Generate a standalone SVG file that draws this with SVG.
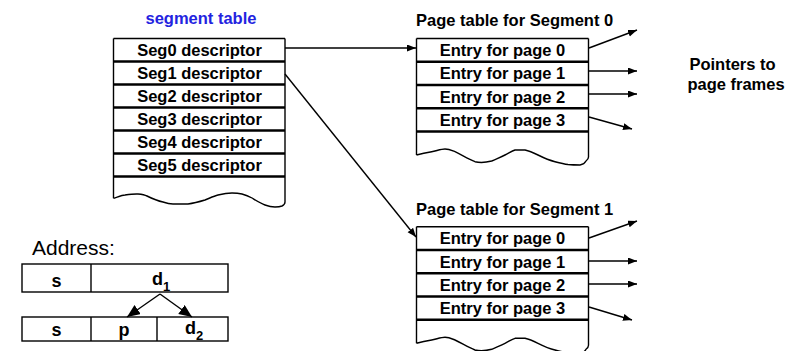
<svg xmlns="http://www.w3.org/2000/svg" width="803" height="351" viewBox="0 0 803 351">
  <style>
    .bg { fill: #ffffff; }
    .cell { fill: none; stroke: #000; stroke-width: 1.4; }
    .div { stroke: #000; stroke-width: 2.4; }
    .edge { fill: none; stroke: #000; stroke-width: 1.4; stroke-linejoin: round; }
    .lbl { font-family: "Liberation Sans", Arial, Helvetica, sans-serif; font-weight: bold; font-size: 16.5px; fill: #000; text-anchor: middle; }
    .addr { font-family: "Liberation Sans", Arial, Helvetica, sans-serif; font-weight: bold; font-size: 18px; fill: #000; text-anchor: middle; }
    .head { font-family: "Liberation Sans", Arial, Helvetica, sans-serif; font-weight: bold; font-size: 16.5px; fill: #000; }
    .title { font-family: "Liberation Sans", Arial, Helvetica, sans-serif; font-weight: bold; font-size: 16.5px; fill: #2323e0; text-anchor: middle; }
    .plain { font-family: "Liberation Sans", Arial, Helvetica, sans-serif; font-size: 21px; fill: #000; }
    .conn { fill: none; stroke: #000; stroke-width: 1.4; }
  </style>
  <defs>
    <marker id="arr" markerUnits="userSpaceOnUse" markerWidth="10" markerHeight="8" refX="9" refY="3.5" orient="auto">
      <path d="M0,0 L9,3.5 L0,7 z" fill="#000"/>
    </marker>
    <marker id="arrBig" markerUnits="userSpaceOnUse" markerWidth="14" markerHeight="12" refX="13" refY="5.5" orient="auto">
      <path d="M0,0 L13,5.5 L0,11 z" fill="#000"/>
    </marker>
  </defs>
  <rect class="bg" x="0" y="0" width="803" height="351"/>

  <!-- segment table -->
  <g id="segment-table">
    <text class="title" x="201" y="24">segment table</text>
    <path class="edge" d="M113.5,38.5 H285 M113.5,38.5 V198.3 M285,38.5 V202
      M113.5,198.3 C119,196.5 122,195.2 125,195 C130,194.3 135,193.8 138,194 C142,194.4 145,195 147,196 C153,199 158,201 163,202 C167,203.4 170,204 173,204 L188,204 C195,203 200,201.5 205,200 C210,198 214,196 218,195 C223,193.8 228,193 232,193 C236,193 239,193.3 242,194 C246,195 249,196.3 252,198 C257,201 261,203.5 265,205 C269,206.5 272,207 275,207 C278,207 280,206.8 282,206 C284,205 285,203.5 285,202"/>
    <line class="div" x1="113.5" y1="61.5" x2="285" y2="61.5"/>
    <line class="div" x1="113.5" y1="84.5" x2="285" y2="84.5"/>
    <line class="div" x1="113.5" y1="107.5" x2="285" y2="107.5"/>
    <line class="div" x1="113.5" y1="130.5" x2="285" y2="130.5"/>
    <line class="div" x1="113.5" y1="153.5" x2="285" y2="153.5"/>
    <line class="div" x1="113.5" y1="176.5" x2="285" y2="176.5"/>
    <text class="lbl" x="199.5" y="56">Seg0 descriptor</text>
    <text class="lbl" x="199.5" y="79">Seg1 descriptor</text>
    <text class="lbl" x="199.5" y="102">Seg2 descriptor</text>
    <text class="lbl" x="199.5" y="125">Seg3 descriptor</text>
    <text class="lbl" x="199.5" y="148">Seg4 descriptor</text>
    <text class="lbl" x="199.5" y="171">Seg5 descriptor</text>
  </g>

  <!-- page table for segment 0 -->
  <g id="page-table-0">
    <text class="head" x="416" y="26">Page table for Segment 0</text>
    <path class="edge" d="M416.5,38.5 H588.5 M416.5,38.5 V155 M588.5,38.5 V157
      M416.5,155 C422,153.5 427,152.5 431.7,151.7 C436,151 441,149 445,149 C449,149 452,150.5 455,151.7 C462,155 468,159 475,161.7 C480,163 486,162.5 491.7,161 C496,159 501,157 505,155 C509,153 512,151 515,150 L525,150 C530,151 534,153 538,155 C544,158 550,160.5 555,161.7 C560,163 564,164 568,164.5 C573,165 578,165 580,165 C583,164.5 585,163 586,161 C588,159.5 588.5,158 588.5,157"/>
    <line class="div" x1="416.5" y1="61.7" x2="588.5" y2="61.7"/>
    <line class="div" x1="416.5" y1="85" x2="588.5" y2="85"/>
    <line class="div" x1="416.5" y1="108.2" x2="588.5" y2="108.2"/>
    <line class="div" x1="416.5" y1="131.5" x2="588.5" y2="131.5"/>
    <text class="lbl" x="502.5" y="56">Entry for page 0</text>
    <text class="lbl" x="502.5" y="79.3">Entry for page 1</text>
    <text class="lbl" x="502.5" y="102.6">Entry for page 2</text>
    <text class="lbl" x="502.5" y="125.9">Entry for page 3</text>
  </g>

  <!-- page table for segment 1 -->
  <g id="page-table-1">
    <text class="head" x="416" y="215">Page table for Segment 1</text>
    <path class="edge" d="M416.5,226.8 H588.5 M416.5,226.8 V343.3 M588.5,226.8 V345.3
      M416.5,343.3 C422,341.8 427,340.8 431.7,340 C436,339.3 441,337.3 445,337.3 C449,337.3 452,338.8 455,340 C462,343.3 468,347.3 475,350 C480,351.3 486,350.8 491.7,349.3 C496,347.3 501,345.3 505,343.3 C509,341.3 512,339.3 515,338.3 L525,338.3 C530,339.3 534,341.3 538,343.3 C544,346.3 550,348.8 555,350 C560,351.3 564,352.3 568,352.8 C573,353.3 578,353.3 580,353.3 C583,352.8 585,351.3 586,349.3 C588,347.8 588.5,346.3 588.5,345.3"/>
    <line class="div" x1="416.5" y1="250" x2="588.5" y2="250"/>
    <line class="div" x1="416.5" y1="273.3" x2="588.5" y2="273.3"/>
    <line class="div" x1="416.5" y1="296.5" x2="588.5" y2="296.5"/>
    <line class="div" x1="416.5" y1="319.8" x2="588.5" y2="319.8"/>
    <text class="lbl" x="502.5" y="244.3">Entry for page 0</text>
    <text class="lbl" x="502.5" y="267.6">Entry for page 1</text>
    <text class="lbl" x="502.5" y="290.9">Entry for page 2</text>
    <text class="lbl" x="502.5" y="314.2">Entry for page 3</text>
  </g>

  <!-- note on the outgoing pointers -->
  <g id="frames-note">
    <text class="lbl" x="732.5" y="70">Pointers to</text>
    <text class="lbl" x="736" y="90">page frames</text>
  </g>

  <!-- address split -->
  <g id="address">
    <text class="plain" x="32" y="255">Address:</text>
    <rect class="cell" x="22" y="264" width="206" height="28"/>
    <line class="cell" x1="91" y1="264" x2="91" y2="292"/>
    <text class="addr" x="56.5" y="287">s</text>
    <text class="addr" x="161" y="285">d<tspan dy="6" font-size="13">1</tspan></text>
    <rect class="cell" x="22" y="317" width="206" height="24"/>
    <line class="cell" x1="91" y1="317" x2="91" y2="341"/>
    <line class="cell" x1="157" y1="317" x2="157" y2="341"/>
    <text class="addr" x="56.5" y="336">s</text>
    <text class="addr" x="124" y="336">p</text>
    <text class="addr" x="194" y="333.5">d<tspan dy="6" font-size="13">2</tspan></text>
  </g>

  <!-- connectors -->
  <g id="connectors">
    <line class="conn" x1="285" y1="48" x2="416" y2="48" marker-end="url(#arr)"/>
    <line class="conn" x1="285" y1="74" x2="416" y2="237" marker-end="url(#arr)"/>

    <line class="conn" x1="589" y1="48" x2="637" y2="30" marker-end="url(#arr)"/>
    <line class="conn" x1="589" y1="71" x2="637" y2="71" marker-end="url(#arr)"/>
    <line class="conn" x1="589" y1="94" x2="637" y2="94" marker-end="url(#arr)"/>
    <line class="conn" x1="589" y1="117" x2="632" y2="129" marker-end="url(#arr)"/>

    <line class="conn" x1="589" y1="238" x2="637" y2="221" marker-end="url(#arr)"/>
    <line class="conn" x1="589" y1="261" x2="637" y2="261" marker-end="url(#arr)"/>
    <line class="conn" x1="589" y1="284" x2="637" y2="284" marker-end="url(#arr)"/>
    <line class="conn" x1="589" y1="307" x2="632" y2="320" marker-end="url(#arr)"/>

    <line class="conn" x1="160" y1="294" x2="127" y2="317" marker-end="url(#arrBig)"/>
    <line class="conn" x1="160" y1="294" x2="192" y2="317" marker-end="url(#arrBig)"/>
  </g>
</svg>
